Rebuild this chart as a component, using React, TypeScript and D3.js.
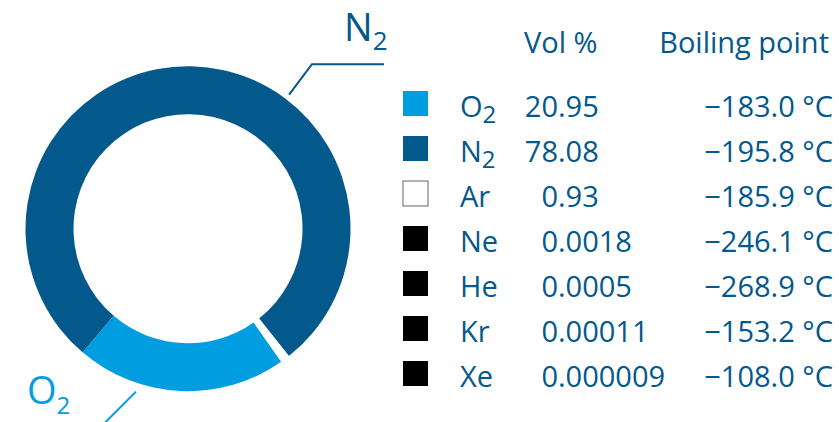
import React from "react";
import * as d3 from "d3";

const gasSymbols = ["O", "N", "Ar", "Ne", "He", "Kr", "Xe"];
const gasSubscripts = ["2", "2", "", "", "", "", ""];
const volPercent = ["20.95", "78.08", "0.93", "0.0018", "0.0005", "0.00011", "0.000009"];
const boilingPoints = [-183.0, -195.8, -185.9, -246.1, -268.9, -153.2, -108.0];
const swatchColors = ["#009EE0", "#03588C", "#FFFFFF", "#000000", "#000000", "#000000", "#000000"];
const headers = ["Vol %", "Boiling point"];

const W = 839;
const H = 422;
const DARK = "#03588C";
const LIGHT = "#009EE0";
const FONT = "'Open Sans', 'Noto Sans', sans-serif";

const cx = 188;
const cy = 228.7;
const rOuter = 162.5;
const rInner = 114.5;
const startDeg = 145;

const deg = (d: number) => (d * Math.PI) / 180;
const polar = (r: number, aDeg: number): [number, number] => [
  cx + r * Math.sin(deg(aDeg)),
  cy - r * Math.cos(deg(aDeg)),
];

export default function App() {
  const values = volPercent.map((v) => parseFloat(v));
  const pie = d3
    .pie<number>()
    .sort(null)
    .value((d) => d)
    .startAngle(deg(startDeg))
    .endAngle(deg(startDeg) + 2 * Math.PI);
  const arcs = pie(values);
  const arcGen = d3.arc<d3.PieArcDatum<number>>().innerRadius(rInner).outerRadius(rOuter);

  const y = d3.scalePoint<string>().domain(gasSymbols).range([91, 361]);
  const sw = 25;
  const swatchX = 403;
  const nameX = 460;
  const decimalX = 558;
  const bpRight = 833;

  const fmtBp = (v: number) => (v < 0 ? "\u2212" : "") + Math.abs(v).toFixed(1) + " °C";

  // leader lines
  const n2a = polar(168, 37);
  const n2b = polar(206, 37);
  const n2Line = d3.line()([n2a, n2b, [384, n2b[1]]]);
  const o2a = polar(171, 197.7);
  const o2Line = d3.line()([o2a, [o2a[0] - 36, o2a[1] + 36]]);

  return (
    <svg
      width={W}
      height={H}
      viewBox={`0 0 ${W} ${H}`}
      style={{ position: "absolute", left: 0, top: 0, background: "#fff" }}
      fontFamily={FONT}
    >
      <g transform={`translate(${cx},${cy})`}>
        {arcs.map((a, i) => (
          <path key={i} d={arcGen(a) || ""} fill={i === 2 ? "#FFFFFF" : swatchColors[i]} />
        ))}
      </g>
      <path d={n2Line || ""} fill="none" stroke={DARK} strokeWidth={2} />
      <path d={o2Line || ""} fill="none" stroke={LIGHT} strokeWidth={2} />
      <text x={344} y={41} fontSize={38} fill={DARK}>
        N<tspan fontSize={26} dy={9}>2</tspan>
      </text>
      <text x={27} y={404} fontSize={38} fill={LIGHT}>
        O<tspan fontSize={24} dy={10}>2</tspan>
      </text>

      <text x={524} y={53} fontSize={29} fill={DARK}>
        {headers[0]}
      </text>
      <text x={829} y={53} fontSize={29} fill={DARK} textAnchor="end">
        {headers[1]}
      </text>

      {gasSymbols.map((g, i) => {
        const top = y(g) as number;
        const base = top + 25.5;
        const [ip, fp] = volPercent[i].split(".");
        return (
          <g key={g}>
            <rect
              x={swatchX}
              y={top}
              width={sw}
              height={sw}
              fill={swatchColors[i]}
              stroke={i === 2 ? "#666" : "none"}
              strokeWidth={i === 2 ? 1 : 0}
            />
            <text x={nameX} y={base} fontSize={29} fill={DARK}>
              {g}
              {gasSubscripts[i] && (
                <tspan fontSize={24} dy={6.5}>
                  {gasSubscripts[i]}
                </tspan>
              )}
            </text>
            <text x={decimalX} y={base} fontSize={29} fill={DARK} textAnchor="end">
              {ip}
            </text>
            <text x={decimalX} y={base} fontSize={29} fill={DARK}>
              {"." + fp}
            </text>
            <text x={bpRight} y={base} fontSize={29} fill={DARK} textAnchor="end">
              {fmtBp(boilingPoints[i])}
            </text>
          </g>
        );
      })}
    </svg>
  );
}
